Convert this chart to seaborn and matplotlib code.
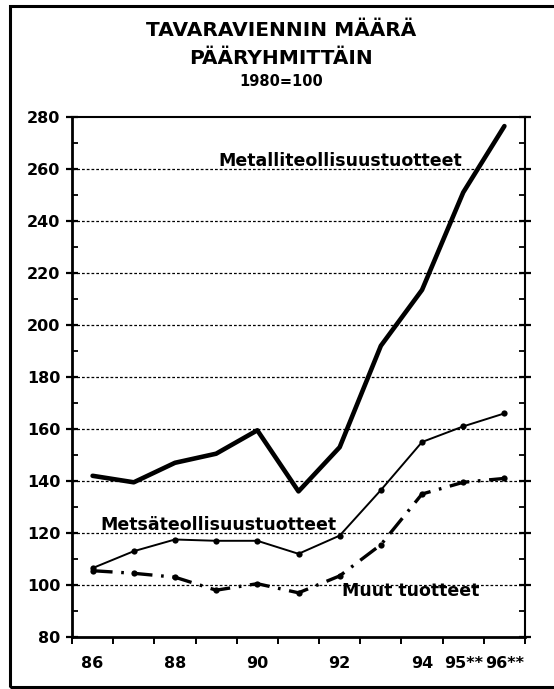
import matplotlib
matplotlib.use("Agg")
import matplotlib.pyplot as plt
from matplotlib.patches import Rectangle
from matplotlib.ticker import FixedLocator, MultipleLocator
import seaborn as sns
import pandas as pd
import numpy as np

# ---- data ----
years = ["86", "87", "88", "89", "90", "91", "92", "93", "94", "95**", "96**"]
year_labels = ["86", "", "88", "", "90", "", "92", "", "94", "95**", "96**"]
metalli = [142, 139.5, 147, 150.5, 159.5, 136, 153, 192, 213.5, 251, 276.5]
metsa = [106.5, 113, 117.5, 117, 117, 112, 119, 136.5, 155, 161, 166]
muut = [105.5, 104.5, 103, 98, 100.5, 97, 103.5, 115.5, 135, 139.5, 141]

title_lines = ["TAVARAVIENNIN MÄÄRÄ", "PÄÄRYHMITTÄIN"]
subtitle = "1980=100"
lab_metalli = "Metalliteollisuustuotteet"
lab_metsa = "Metsäteollisuustuotteet"
lab_muut = "Muut tuotteet"

sns.set_theme(style="white")
plt.rcParams["font.family"] = ["DejaVu Sans"]
plt.rcParams["font.weight"] = "bold"
plt.rcParams["text.color"] = "black"
plt.rcParams["xtick.color"] = "black"
plt.rcParams["ytick.color"] = "black"
plt.rcParams["axes.edgecolor"] = "black"

df = pd.DataFrame({"pos": np.arange(len(years)), "year": years,
                   "metalli": metalli, "metsa": metsa, "muut": muut})

fig = plt.figure(figsize=(5.54, 6.89), dpi=100)
ax = fig.add_axes([72/554, 52/689, (525-72)/554, (637-117)/689])

sns.lineplot(data=df, x="pos", y="metalli", ax=ax, color="black", lw=3.3,
             solid_capstyle="round", zorder=4)
sns.lineplot(data=df, x="pos", y="metsa", ax=ax, color="black", lw=1.4,
             marker="o", markersize=4.5, markeredgewidth=0, zorder=4)
sns.lineplot(data=df, x="pos", y="muut", ax=ax, color="black", lw=2.4,
             linestyle=(0, (6, 2.6, 0.8, 2.6)), marker="o", markersize=4.5,
             markeredgewidth=0, zorder=4)

ax.set_xlim(-0.5, len(years) - 0.5)
ax.set_ylim(80, 280)
ax.set_xlabel("")
ax.set_ylabel("")

# y ticks
ax.yaxis.set_major_locator(MultipleLocator(20))
ax.yaxis.set_minor_locator(MultipleLocator(10))
ax.tick_params(axis="y", which="major", direction="inout", length=9, width=1.6,
               labelsize=11.5, pad=4, left=True, right=True, colors="black")
ax.tick_params(axis="y", which="minor", direction="in", length=4, width=1.3,
               left=True, right=True, colors="black")
for t in ax.get_yticklabels():
    t.set_fontweight("bold")
    t.set_color("black")

# x ticks: boundaries as major ticks, labels at centres via minor ticks
ax.xaxis.set_major_locator(FixedLocator(np.arange(-0.5, len(years), 1.0)))
ax.xaxis.set_minor_locator(FixedLocator(df["pos"].values))
ax.set_xticklabels([], minor=False)
ax.set_xticklabels(year_labels, minor=True, fontsize=11.5, fontweight="bold",
                   color="black")
ax.tick_params(axis="x", which="major", direction="out", length=5, width=1.4,
               bottom=True, colors="black")
ax.tick_params(axis="x", which="minor", length=0, pad=14, bottom=True)

# grid
for v in range(100, 280, 20):
    ax.axhline(v, color="black", lw=0.9, linestyle=(0, (2.2, 1.6)), zorder=1)

for s in ["left", "bottom"]:
    ax.spines[s].set_linewidth(2.0)
for s in ["top", "right"]:
    ax.spines[s].set_linewidth(1.5)
for s in ax.spines.values():
    s.set_color("black")
    s.set_visible(True)

# line labels
ax.text(3.05, 261.3, lab_metalli, fontsize=12.5, fontweight="heavy",
        ha="left", va="baseline", zorder=5, color="black")
ax.text(0.19, 121.0, lab_metsa, fontsize=12.5, fontweight="heavy",
        ha="left", va="baseline", zorder=5, color="black")
ax.text(6.05, 95.6, lab_muut, fontsize=12.5, fontweight="heavy",
        ha="left", va="baseline", zorder=5, color="black")

# titles
fig.text(0.508, 1 - 31/689, title_lines[0], ha="center", va="center",
         fontsize=14.5, fontweight="heavy", color="black")
fig.text(0.508, 1 - 59/689, title_lines[1], ha="center", va="center",
         fontsize=14.5, fontweight="heavy", color="black")
fig.text(0.508, 1 - 82/689, subtitle, ha="center", va="center",
         fontsize=10.5, fontweight="heavy", color="black")

# outer frame
fig.patches.append(Rectangle((10/554, 2/689), 1.2, (685-4)/689,
                             transform=fig.transFigure, fill=False,
                             edgecolor="black", lw=2.2, clip_on=False))

fig.savefig("out.png", dpi=100, facecolor="white")
